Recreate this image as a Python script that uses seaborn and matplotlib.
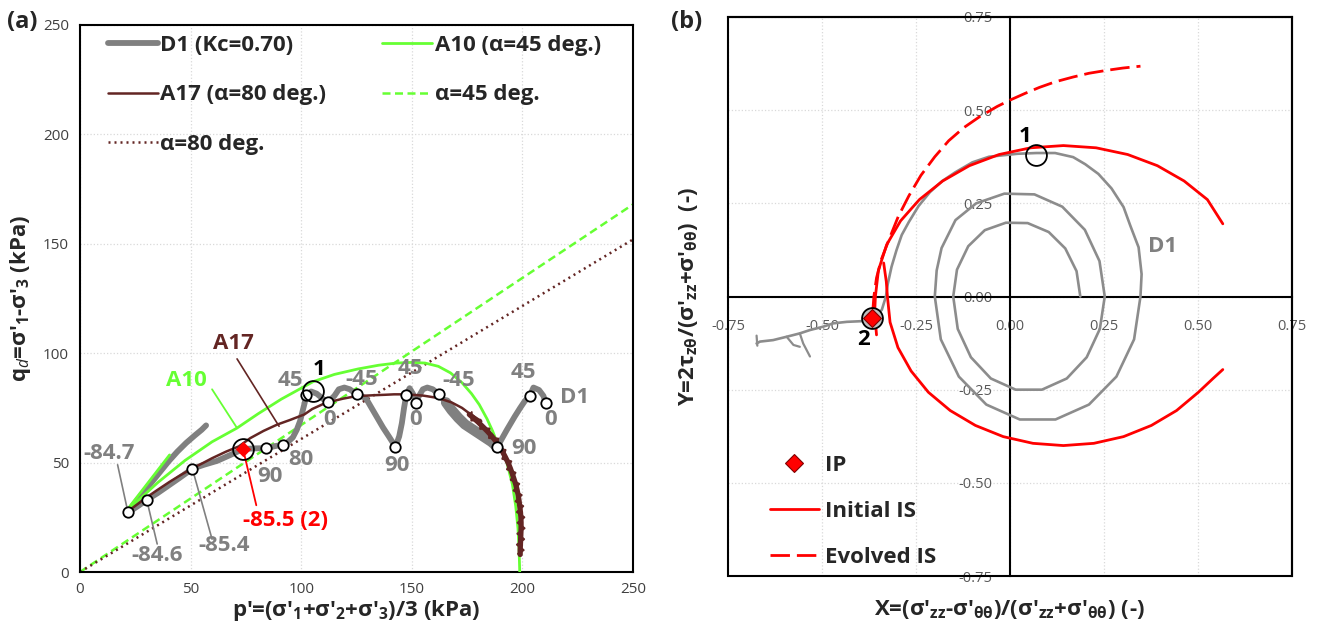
import matplotlib
matplotlib.use("Agg")
import matplotlib.pyplot as plt
import seaborn as sns
from matplotlib.patches import Rectangle
from matplotlib.lines import Line2D

# ---------------- data: panel (a) ----------------
d1_p = [211.0, 210.6, 209.5, 207.5, 205.0, 203.3, 201.0, 199.0, 196.5, 193.0, 190.5, 188.7,
        186.0, 183.0, 180.0, 177.0, 174.0, 171.0, 168.0, 165.5, 162.3, 159.5, 157.0, 155.0,
        153.0, 152.0, 150.5, 149.0, 147.5, 146.5, 145.5, 144.3, 142.6, 141.5, 139.6, 137.0,
        134.4, 131.5, 129.2, 125.0, 122.0, 119.5, 117.0, 115.0, 112.2, 110.0, 107.0, 104.5,
        102.3, 101.5, 100.5, 99.5, 98.0, 96.2, 93.5, 91.8, 88.0, 84.2, 79.0, 73.7, 68.0,
        62.0, 56.0, 50.8, 45.0, 40.0, 35.0, 30.4, 26.0, 21.7, 24.0, 28.0, 32.0, 36.0, 40.0,
        44.0, 48.0, 52.0, 55.0, 57.0]
d1_q = [76.0, 77.1, 80.5, 83.2, 84.3, 80.5, 78.0, 75.0, 71.0, 65.0, 60.5, 57.1,
        59.5, 61.5, 63.5, 65.5, 67.5, 70.5, 74.0, 77.5, 81.2, 83.5, 84.3, 83.5,
        80.0, 77.4, 81.5, 84.0, 80.8, 75.0, 68.0, 62.0, 57.1, 59.0, 62.0, 66.0,
        70.5, 75.5, 79.5, 81.2, 83.5, 84.3, 83.5, 80.5, 77.7, 79.0, 81.5, 82.5,
        80.8, 77.0, 73.0, 69.0, 65.0, 61.5, 59.0, 58.2, 57.5, 56.6, 56.5, 56.2, 53.5,
        50.8, 49.0, 47.2, 43.0, 39.5, 36.0, 33.1, 30.0, 27.2, 30.5, 35.5, 40.5, 45.5, 50.5,
        55.0, 59.0, 62.5, 65.0, 67.0]
# noisy band of D1 (between angle 90 and -45 of the first cycle)
d1_band_p = [188.7, 186.0, 183.0, 180.0, 177.0, 174.0, 171.0, 168.0, 165.5]
d1_band_q = [57.1, 59.5, 61.5, 63.5, 65.5, 67.5, 70.5, 74.0, 77.5]

a10_p = [198.8, 198.5, 198.0, 197.0, 195.5, 193.6, 192.2, 189.0, 186.5, 184.0, 180.5, 177.0,
         172.7, 167.5, 162.0, 156.0, 150.0, 143.0, 135.0, 125.7, 115.0, 105.4, 91.0, 80.5,
         71.0, 59.7, 47.5, 35.3, 26.6, 22.3]
a10_q = [0.0, 10.0, 20.0, 30.0, 40.0, 47.5, 53.0, 58.0, 64.5, 70.0, 76.5, 81.5,
         86.5, 91.0, 94.0, 95.5, 95.8, 95.5, 94.5, 92.8, 90.3, 87.0, 79.0, 72.3,
         65.8, 59.5, 51.0, 41.0, 33.0, 28.9]
a10_tail_p = [22.3, 40.5]
a10_tail_q = [29.7, 53.5]

a17_p = [181.4, 176.0, 172.7, 168.0, 162.0, 155.3, 150.0, 146.6, 142.0, 138.0, 133.0, 129.2,
         124.0, 118.8, 114.0, 110.0, 105.0, 101.4, 95.0, 89.2, 83.0, 77.0, 71.8, 66.0,
         59.7, 55.0, 50.8, 45.0, 40.5, 35.0, 30.4, 26.0, 22.3]
a17_q = [68.9, 72.5, 75.0, 77.5, 79.5, 80.6, 81.0, 81.2, 81.2, 81.0, 80.8, 80.6,
         80.2, 79.2, 78.0, 76.8, 74.5, 72.0, 69.5, 67.4, 64.5, 61.2, 57.4, 55.0,
         52.0, 49.5, 47.4, 44.0, 41.2, 37.5, 34.3, 31.0, 28.2]
# noisy band of A17 (centre line and jagged edge)
a17_band_p = [176.0, 178.0, 180.0, 182.0, 184.0, 186.0, 187.8, 189.5, 191.0, 192.3, 193.5, 194.5,
              195.4, 196.2, 197.0, 197.6, 198.1, 198.5, 198.8, 199.1, 199.3, 199.4, 199.4, 199.3,
              199.2, 199.1, 199.0, 199.0]
a17_band_q = [72.0, 70.3, 68.5, 66.5, 64.5, 62.3, 60.0, 57.5, 55.0, 52.5, 50.0, 47.5,
              45.0, 42.5, 40.0, 37.5, 35.0, 32.5, 30.0, 27.5, 25.0, 22.5, 20.0, 17.5,
              15.0, 12.5, 10.0, 8.0]
a17_noise_p = [177.1, 176.9, 181.1, 180.9, 185.1, 184.9, 189.1, 188.2, 192.4, 190.9, 195.0,
               193.0, 196.9, 194.7, 198.6, 196.0, 199.7, 196.9, 200.4, 197.5, 200.9, 197.8,
               201.0, 197.7, 200.8, 197.5, 200.6, 198.0]
a17_noise_q = [73.1, 69.2, 69.6, 65.4, 65.6, 61.2, 61.0, 56.5, 55.8, 51.7, 50.6,
               46.9, 45.4, 42.1, 40.3, 37.2, 35.2, 32.3, 30.1, 27.4, 25.0, 22.5,
               20.0, 17.5, 15.0, 12.5, 10.0, 8.3]

ref_p = [0.0, 250.0]
ref45_q = [0.0, 168.0]
ref80_q = [0.0, 152.0]

mk_p = [21.7, 30.4, 50.8, 84.2, 91.8, 102.3, 112.2, 125.0, 142.6, 147.5, 152.0, 162.3, 188.7, 203.3, 210.6]
mk_q = [27.2, 33.1, 47.2, 56.6, 58.2, 80.8, 77.7, 81.2, 57.1, 80.8, 77.4, 81.2, 57.1, 80.5, 77.1]
ip_p, ip_q = [73.7], [56.2]
pt1_p, pt1_q = [105.4], [82.8]

ang_labels = ["90", "80", "45", "0", "-45", "90", "45", "0", "-45", "90", "45", "0"]
ang_x = [85.7, 99.7, 95.3, 112.7, 127.5, 143.1, 149.2, 151.8, 171.0, 200.5, 200.5, 212.7]
ang_y = [43.5, 51.2, 87.4, 69.7, 88.2, 48.9, 92.8, 69.7, 87.4, 56.6, 91.2, 69.7]

lead_labels = ["-84.7", "-84.6", "-85.4"]
lead_txt_x = [13.0, 35.0, 65.2]
lead_txt_y = [54.3, 7.4, 12.0]
lead_from_x = [17.0, 34.9, 59.7]
lead_from_y = [49.0, 12.8, 15.0]
lead_to_x = [21.7, 30.4, 50.8]
lead_to_y = [27.2, 32.0, 47.2]

# ---------------- data: panel (b) ----------------
d1x = [0.187, 0.177, 0.147, 0.103, 0.047, -0.011, -0.067, -0.111, -0.141, -0.151,
       -0.139, -0.104, -0.051, 0.015, 0.085, 0.151, 0.204, 0.239, 0.252,
       0.238, 0.199, 0.139, 0.065, -0.015, -0.090, -0.145, -0.182, -0.195, -0.200,
       -0.184, -0.136, -0.063, 0.026, 0.121, 0.210, 0.283, 0.330, 0.347,
       0.350, 0.342, 0.320, 0.302, 0.270, 0.235, 0.200, 0.168, 0.120, 0.070, 0.020, -0.056,
       -0.100, -0.146, -0.180, -0.213, -0.243, -0.269, -0.288, -0.302, -0.315, -0.325,
       -0.330, -0.341, -0.368,
       -0.390, -0.434, -0.470, -0.497, -0.532, -0.559, -0.594, -0.630, -0.665, -0.674]
d1y = [0.000, 0.068, 0.129, 0.173, 0.197, 0.198, 0.178, 0.135, 0.072, 0.000,
       -0.087, -0.163, -0.220, -0.250, -0.250, -0.220, -0.163, -0.087, 0.000,
       0.095, 0.179, 0.241, 0.274, 0.276, 0.250, 0.205, 0.130, 0.070, 0.000,
       -0.115, -0.215, -0.290, -0.330, -0.330, -0.290, -0.215, -0.115, 0.000,
       0.060, 0.132, 0.190, 0.240, 0.290, 0.329, 0.355, 0.374, 0.385, 0.385, 0.383, 0.375,
       0.360, 0.333, 0.310, 0.280, 0.243, 0.200, 0.165, 0.124, 0.080, 0.034,
       0.000, -0.036, -0.058,
       -0.066, -0.068, -0.072, -0.081, -0.090, -0.099, -0.108, -0.117, -0.121, -0.126]
spur1_x = [-0.559, -0.550, -0.532]
spur1_y = [-0.099, -0.126, -0.161]
spur2_x = [-0.594, -0.576, -0.559]
spur2_y = [-0.108, -0.130, -0.135]
spur3_x = [-0.674, -0.672]
spur3_y = [-0.105, -0.132]

is_top_x = [-0.355, -0.360, -0.358, -0.350, -0.328, -0.291, -0.241, -0.179, -0.108, -0.029,
            0.055, 0.142, 0.229, 0.313, 0.392, 0.463, 0.525, 0.566]
is_top_y = [-0.103, -0.045, 0.000, 0.070, 0.139, 0.203, 0.260, 0.310, 0.351, 0.381,
            0.399, 0.405, 0.399, 0.381, 0.351, 0.310, 0.260, 0.195]
is_bot_x = [-0.336, -0.329, -0.326, -0.319, -0.298, -0.263, -0.217, -0.159, -0.092, -0.018,
            0.061, 0.142, 0.223, 0.302, 0.376, 0.443, 0.501, 0.540, 0.566]
is_bot_y = [0.090, 0.040, 0.000, -0.069, -0.137, -0.200, -0.257, -0.306, -0.346, -0.376,
            -0.394, -0.400, -0.394, -0.376, -0.346, -0.306, -0.257, -0.220, -0.196]
ev_x = [-0.365, -0.362, -0.355, -0.342, -0.319, -0.297, -0.269, -0.237, -0.200, -0.163,
        -0.123, -0.080, -0.034, 0.000, 0.040, 0.078, 0.120, 0.168, 0.210, 0.258, 0.300, 0.347]
ev_y = [-0.040, 0.000, 0.050, 0.100, 0.160, 0.215, 0.270, 0.325, 0.375, 0.418,
        0.453, 0.483, 0.510, 0.527, 0.545, 0.561, 0.576, 0.589, 0.599, 0.607, 0.613, 0.618]
ipb_x, ipb_y = [-0.368], [-0.058]
pt1b_x, pt1b_y = [0.070], [0.379]

tick_a = [0, 50, 100, 150, 200, 250]
tick_b = [-0.75, -0.50, -0.25, 0.00, 0.25, 0.50, 0.75]
tick_b_lbl = ["-0.75", "-0.50", "-0.25", "0.00", "0.25", "0.50", "0.75"]

# ---------------- style ----------------
sns.set_theme(style="white")
plt.rcParams["font.family"] = ["Open Sans", "DejaVu Sans"]
plt.rcParams["axes.unicode_minus"] = False
plt.rcParams["mathtext.fontset"] = "custom"
plt.rcParams["mathtext.rm"] = "Open Sans"
plt.rcParams["mathtext.it"] = "Open Sans:italic"
plt.rcParams["mathtext.bf"] = "Open Sans:bold"

GRAY = "#808080"
GREEN = "#66ff33"
BROWN = "#632523"
RED = "#ff0000"
TICKC = "#404040"
GRIDC = "#d9d9d9"
FS = 16

fig = plt.figure(figsize=(13.2, 6.37), dpi=100)
axL = fig.add_axes([80 / 1320, 1 - 572 / 637, 553 / 1320, 547 / 637])
axR = fig.add_axes([728 / 1320, 1 - 576 / 637, 564 / 1320, 559 / 637])


def line(ax, x, y, **kw):
    sns.lineplot(x=x, y=y, ax=ax, sort=False, estimator=None, errorbar=None, **kw)


# ================= panel (a) =================
ax = axL
line(ax, ref_p, ref45_q, color=GREEN, lw=1.8, linestyle=(0, (3.2, 1.8)), label="α=45 deg.", zorder=2)
line(ax, ref_p, ref80_q, color=BROWN, lw=1.8, linestyle=(0, (0.8, 1.6)), label="α=80 deg.", zorder=2)
line(ax, d1_p, d1_q, color=GRAY, lw=4.2, label="D1 (Kc=0.70)", zorder=3, solid_joinstyle="round")
line(ax, d1_band_p, d1_band_q, color=GRAY, lw=7.5, zorder=3)
line(ax, a10_p, a10_q, color=GREEN, lw=2.0, label="A10 (α=45 deg.)", zorder=4)
line(ax, a10_tail_p, a10_tail_q, color=GREEN, lw=2.0, zorder=4)
line(ax, a17_band_p, a17_band_q, color=BROWN, lw=3.8, zorder=5)
line(ax, a17_noise_p, a17_noise_q, color=BROWN, lw=1.4, zorder=5)
line(ax, a17_p, a17_q, color=BROWN, lw=1.8, label="A17 (α=80 deg.)", zorder=5)

line(ax, mk_p, mk_q, marker="o", ms=7.5, mfc="white", mec="black", mew=1.3, linestyle="none", zorder=7)
line(ax, ip_p, ip_q, marker="o", ms=15, mfc="none", mec="black", mew=1.3, linestyle="none", zorder=7)
line(ax, ip_p, ip_q, marker="D", ms=7, mfc=RED, mec=RED, linestyle="none", zorder=8)
line(ax, pt1_p, pt1_q, marker="o", ms=15, mfc="none", mec="black", mew=1.3, linestyle="none", zorder=7)

TXT = dict(fontsize=FS, fontweight="bold", ha="center", va="center", zorder=9)
for s, x, y in zip(ang_labels, ang_x, ang_y):
    ax.text(x, y, s, color=GRAY, **TXT)
ax.text(223.5, 79.7, "D1", color=GRAY, **TXT)
ax.text(108.0, 92.5, "1", color="black", **TXT)
for s, tx, ty, fx, fy, ex, ey in zip(lead_labels, lead_txt_x, lead_txt_y, lead_from_x, lead_from_y, lead_to_x, lead_to_y):
    ax.text(tx, ty, s, color=GRAY, **TXT)
    line(ax, [fx, ex], [fy, ey], color=GRAY, lw=1.2, zorder=6)
ax.text(92.7, 23.5, "-85.5 (2)", color=RED, **TXT)
line(ax, [79.7, 73.7], [30.5, 56.2], color=RED, lw=1.3, zorder=6)
ax.text(69.2, 104.3, "A17", color=BROWN, **TXT)
line(ax, [71.0, 90.0], [97.4, 66.6], color=BROWN, lw=1.2, zorder=6)
ax.text(48.3, 87.4, "A10", color=GREEN, **TXT)
line(ax, [59.7, 71.0], [83.5, 65.8], color=GREEN, lw=1.3, zorder=6)

ax.set_xlim(0, 250)
ax.set_ylim(0, 250)
ax.set_xticks(tick_a)
ax.set_yticks(tick_a)
ax.grid(True, color=GRIDC, linestyle=":", lw=0.9)
ax.tick_params(axis="both", labelsize=11, labelcolor=TICKC, length=4, width=1, color="black",
               direction="out", pad=4)
ax.tick_params(axis="x", length=0, pad=7)
for sp in ax.spines.values():
    sp.set_color("black")
    sp.set_linewidth(1.5)
ax.set_xlabel(r"p'=(σ'$_\mathbf{1}$+σ'$_\mathbf{2}$+σ'$_\mathbf{3}$)/3 (kPa)", fontsize=FS, fontweight="bold")
ax.set_ylabel(r"q$_\mathit{d}$=σ'$_\mathbf{1}$-σ'$_\mathbf{3}$ (kPa)", fontsize=FS, fontweight="bold")
ax.xaxis.set_label_coords(0.5, -0.048)
ax.yaxis.set_label_coords(-0.085, 0.5)

h, l = ax.get_legend_handles_labels()
hd = dict(zip(l, h))
order = ["D1 (Kc=0.70)", "A17 (α=80 deg.)", "α=80 deg.", "A10 (α=45 deg.)", "α=45 deg."]
ax.legend([hd[k] for k in order], order, loc="upper left", bbox_to_anchor=(0.05, 0.982), ncol=2,
          frameon=False, prop=dict(weight="bold", size=FS), handlelength=2.25, handletextpad=0.12,
          columnspacing=2.5, labelspacing=1.28, borderpad=0, borderaxespad=0)

# ================= panel (b) =================
ax = axR
line(ax, d1x, d1y, color="#8c8c8c", lw=1.9, zorder=3)
line(ax, spur1_x, spur1_y, color="#8c8c8c", lw=1.6, zorder=3)
line(ax, spur2_x, spur2_y, color="#8c8c8c", lw=1.6, zorder=3)
line(ax, spur3_x, spur3_y, color="#8c8c8c", lw=1.6, zorder=3)
line(ax, is_top_x, is_top_y, color=RED, lw=2.0, label="Initial IS", zorder=4)
line(ax, is_bot_x, is_bot_y, color=RED, lw=2.0, zorder=4)
line(ax, ev_x, ev_y, color=RED, lw=2.0, linestyle=(0, (7, 2.5)), label="Evolved IS", zorder=4)
line(ax, pt1b_x, pt1b_y, marker="o", ms=15, mfc="none", mec="black", mew=1.3, linestyle="none", zorder=6)
line(ax, ipb_x, ipb_y, marker="o", ms=15, mfc="#bfbfbf", mec="black", mew=1.3, linestyle="none", zorder=6)
line(ax, ipb_x, ipb_y, marker="D", ms=9, mfc=RED, mec="#7f0000", mew=0.8, linestyle="none", zorder=7,
     label="IP")

TXTB = dict(fontsize=FS, fontweight="bold", ha="center", va="center", zorder=9)
ax.text(0.039, 0.430, "1", color="black", **TXTB)
ax.text(-0.390, -0.116, "2", color="black", **TXTB)
ax.text(0.405, 0.135, "D1", color=GRAY, **TXTB)

ax.set_xlim(-0.75, 0.75)
ax.set_ylim(-0.75, 0.75)
ax.set_xticks(tick_b)
ax.set_yticks(tick_b)
ax.set_xticklabels(tick_b_lbl)
ax.set_yticklabels(tick_b_lbl)
ax.grid(True, color=GRIDC, linestyle=":", lw=0.9)
ax.spines["left"].set_position(("data", 0))
ax.spines["bottom"].set_position(("data", 0))
for sp in ax.spines.values():
    sp.set_color("black")
    sp.set_linewidth(1.5)
ax.tick_params(axis="both", labelsize=10.5, labelcolor="#595959", length=9, width=1.3, color="black",
               direction="inout")
ax.tick_params(axis="x", pad=12)
ax.tick_params(axis="y", pad=8)
ax.add_patch(Rectangle((0, 0), 1, 1, transform=ax.transAxes, fill=False, ec="black", lw=1.5,
                       clip_on=False, zorder=10))
ax.set_xlabel(r"X=(σ'$_\mathbf{zz}$-σ'$_\mathbf{θθ}$)/(σ'$_\mathbf{zz}$+σ'$_\mathbf{θθ}$) (-)",
              fontsize=FS, fontweight="bold")
ax.set_ylabel(r"Y=2τ$_\mathbf{zθ}$/(σ'$_\mathbf{zz}$+σ'$_\mathbf{θθ}$)  (-)", fontsize=FS, fontweight="bold")
ax.xaxis.set_label_coords(0.5, -0.040)
ax.yaxis.set_label_coords(-0.050, 0.5)

h, l = ax.get_legend_handles_labels()
hd = dict(zip(l, h))
order = ["IP", "Initial IS", "Evolved IS"]
handles = [Line2D([], [], marker="D", ms=9, mfc=RED, mec="#7f0000", mew=0.8, linestyle="none"),
           hd["Initial IS"], hd["Evolved IS"]]
ax.legend(handles, order, loc="lower left", bbox_to_anchor=(0.074, 0.015), frameon=False,
          prop=dict(weight="bold", size=FS), handlelength=2.2, handletextpad=0.3,
          labelspacing=1.12, borderpad=0, borderaxespad=0)

fig.text(22 / 1320, 1 - 22 / 637, "(a)", fontsize=17, fontweight="bold", ha="center", va="center")
fig.text(687 / 1320, 1 - 22 / 637, "(b)", fontsize=17, fontweight="bold", ha="center", va="center")

fig.savefig("out.png", dpi=100)
